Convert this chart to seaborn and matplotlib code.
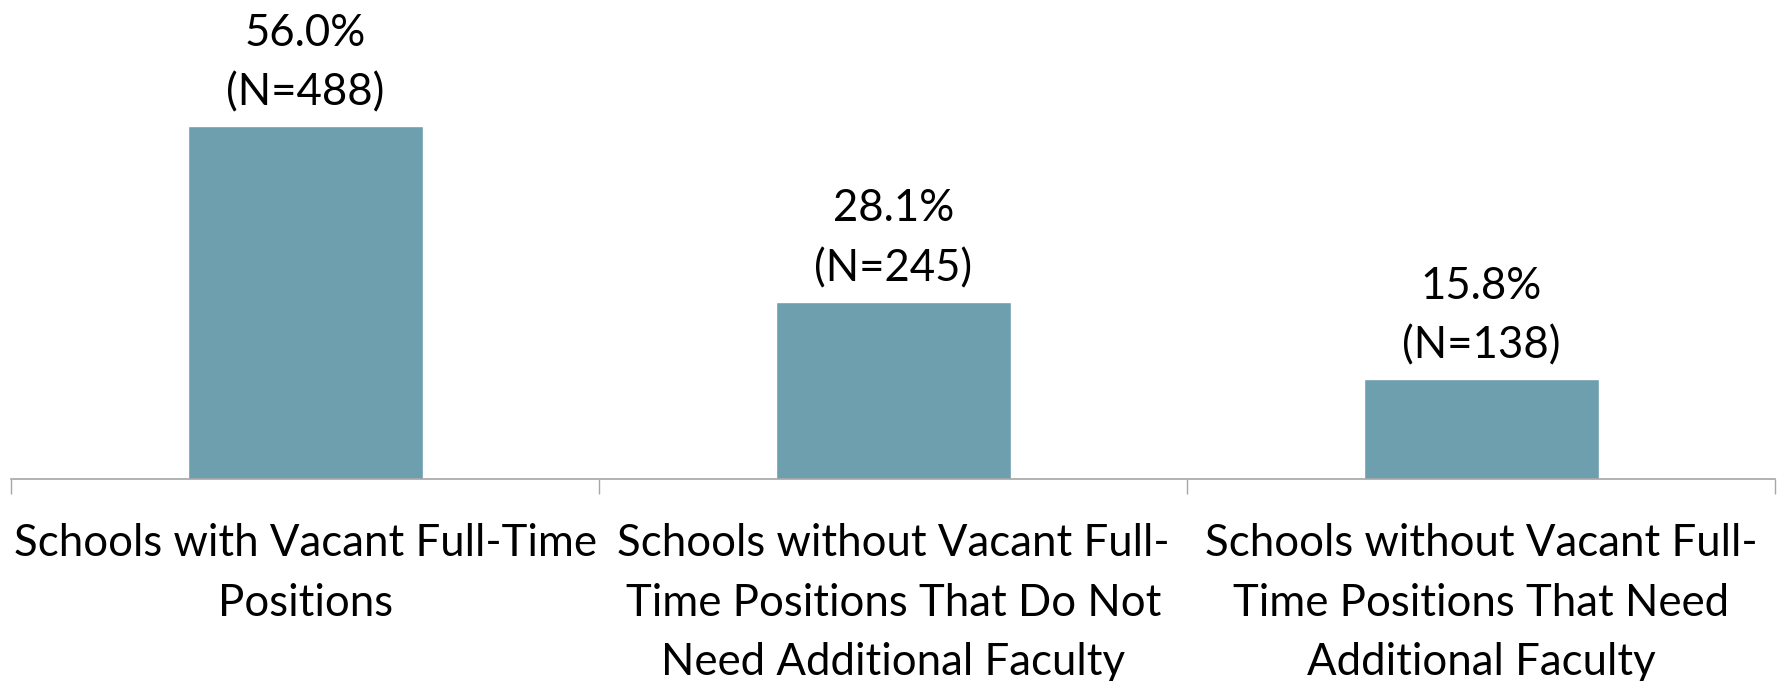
import matplotlib
matplotlib.use('Agg')
import matplotlib.pyplot as plt
import seaborn as sns
import pandas as pd
import numpy as np


categories = [
    'Schools with Vacant Full-Time\nPositions',
    'Schools without Vacant Full-\nTime Positions That Do Not\nNeed Additional Faculty',
    'Schools without Vacant Full-\nTime Positions That Need\nAdditional Faculty',
]
percents = [56.0, 28.1, 15.8]
counts = [488, 245, 138]

df = pd.DataFrame({'category': categories, 'percent': percents, 'n': counts})

sns.set_theme(style='white')
plt.rcParams['font.family'] = ['Lato', 'DejaVu Sans']

fig = plt.figure(figsize=(17.79, 6.81), dpi=100)
ax = fig.add_axes([0.0064, 0.297, 0.9916, 0.703])

sns.barplot(data=df, x='category', y='percent', color='#6d9fae', width=0.4,
            saturation=1, ax=ax)

# value labels above each bar
for i, row in df.iterrows():
    ax.text(i, row['percent'] + 2.0, f"{row['percent']:.1f}%\n(N={row['n']})",
            ha='center', va='bottom', fontsize=31.5, linespacing=1.56, color='black')

ax.set_xlim(-0.5, len(df) - 0.5)
ax.set_ylim(0, 76)
ax.set_xlabel('')
ax.set_ylabel('')
ax.set_yticks([])

for side in ['top', 'right', 'left']:
    ax.spines[side].set_visible(False)
ax.spines['bottom'].set_color('#a6a6a6')
ax.spines['bottom'].set_linewidth(1.2)

# separator ticks between categories
ax.set_xticks(np.arange(-0.5, len(df)), minor=True)
ax.tick_params(axis='x', which='minor', length=11, width=1.0, color='#a6a6a6',
               direction='out', bottom=True)
ax.tick_params(axis='x', which='major', length=0, pad=32, labelsize=31.5)
for lab in ax.get_xticklabels():
    lab.set_linespacing(1.56)
    lab.set_color('black')

fig.savefig('out.png', dpi=100)
